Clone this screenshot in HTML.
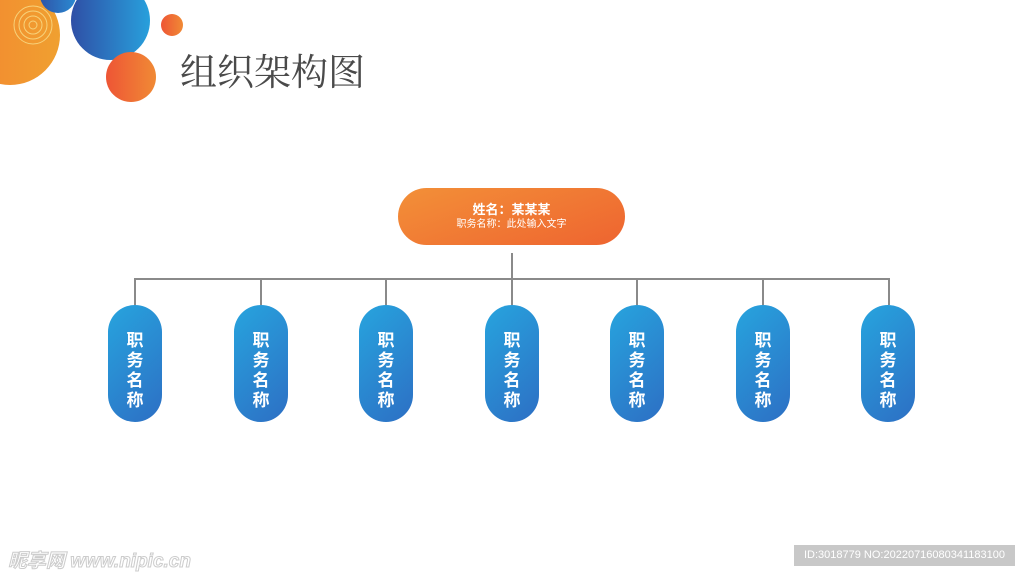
<!DOCTYPE html>
<html><head><meta charset="utf-8"><style>
body{margin:0;width:1024px;height:576px;background:#fff;position:relative;overflow:hidden;font-family:"Liberation Sans","Noto Sans CJK SC",sans-serif}
.c{position:absolute;border-radius:50%}
.pill{position:absolute;top:305px;width:54px;height:117px;border-radius:27px;background:linear-gradient(135deg,#27a4de,#2d6fc4);color:#fff;font-weight:bold;font-size:17px;line-height:20px;text-align:center;box-sizing:border-box;padding-top:26px}
.v{position:absolute;top:279px;width:2px;height:26px;background:#8a8a8a}
</style></head><body>
<div class="c" style="left:-40px;top:-15px;width:100px;height:100px;background:linear-gradient(90deg,#f38630,#f0a030)"></div>
<svg style="position:absolute;left:0;top:0" width="60" height="60"><g fill="none" stroke="#f7d27a" stroke-width="1"><circle cx="33" cy="25" r="4"/><circle cx="33" cy="25" r="9"/><circle cx="33" cy="25" r="14"/><circle cx="33" cy="25" r="19"/></g></svg>
<div class="c" style="left:40px;top:-23px;width:36px;height:36px;background:linear-gradient(90deg,#2f54a8,#2a8ad2)"></div>
<div class="c" style="left:71px;top:-19px;width:79px;height:79px;background:linear-gradient(90deg,#2f4fa6,#28a0dc)"></div>
<div class="c" style="left:106px;top:52px;width:50px;height:50px;background:linear-gradient(90deg,#ee5535,#f08a35)"></div>
<div class="c" style="left:161px;top:14px;width:22px;height:22px;background:linear-gradient(90deg,#ee5535,#f08a35)"></div>
<div style="position:absolute;left:180px;top:42px;font-size:37px;color:#4a4a4a;font-family:'Noto Serif CJK SC','Noto Sans CJK SC',sans-serif">组织架构图</div>
<div style="position:absolute;left:398px;top:188px;width:227px;height:57px;border-radius:29px;background:linear-gradient(160deg,#f39038,#ee6430);color:#fff;text-align:center">
<div style="font-size:13px;font-weight:bold;margin-top:14px;line-height:16px">姓名：某某某</div>
<div style="font-size:10px;line-height:14px">职务名称：此处输入文字</div></div>
<div style="position:absolute;left:511px;top:253px;width:2px;height:26px;background:#8a8a8a"></div>
<div style="position:absolute;left:134px;top:278px;width:756px;height:2px;background:#8a8a8a"></div>
<div class="v" style="left:134px"></div><div class="v" style="left:260px"></div><div class="v" style="left:385px"></div><div class="v" style="left:511px"></div><div class="v" style="left:636px"></div><div class="v" style="left:762px"></div><div class="v" style="left:888px"></div>
<div class="pill" style="left:108px">职<br>务<br>名<br>称</div>
<div class="pill" style="left:234px">职<br>务<br>名<br>称</div>
<div class="pill" style="left:359px">职<br>务<br>名<br>称</div>
<div class="pill" style="left:485px">职<br>务<br>名<br>称</div>
<div class="pill" style="left:610px">职<br>务<br>名<br>称</div>
<div class="pill" style="left:736px">职<br>务<br>名<br>称</div>
<div class="pill" style="left:861px">职<br>务<br>名<br>称</div>
<div style="position:absolute;left:8px;top:546px;font-size:19px;color:#fff;-webkit-text-stroke:1px #ccc;font-weight:bold;font-style:italic">昵享网 www.nipic.cn</div>
<div style="position:absolute;left:794px;top:545px;width:221px;height:21px;background:#c8c8c8;color:#fff;font-size:11px;line-height:21px;text-align:center">ID:3018779 NO:20220716080341183100</div>
</body></html>
